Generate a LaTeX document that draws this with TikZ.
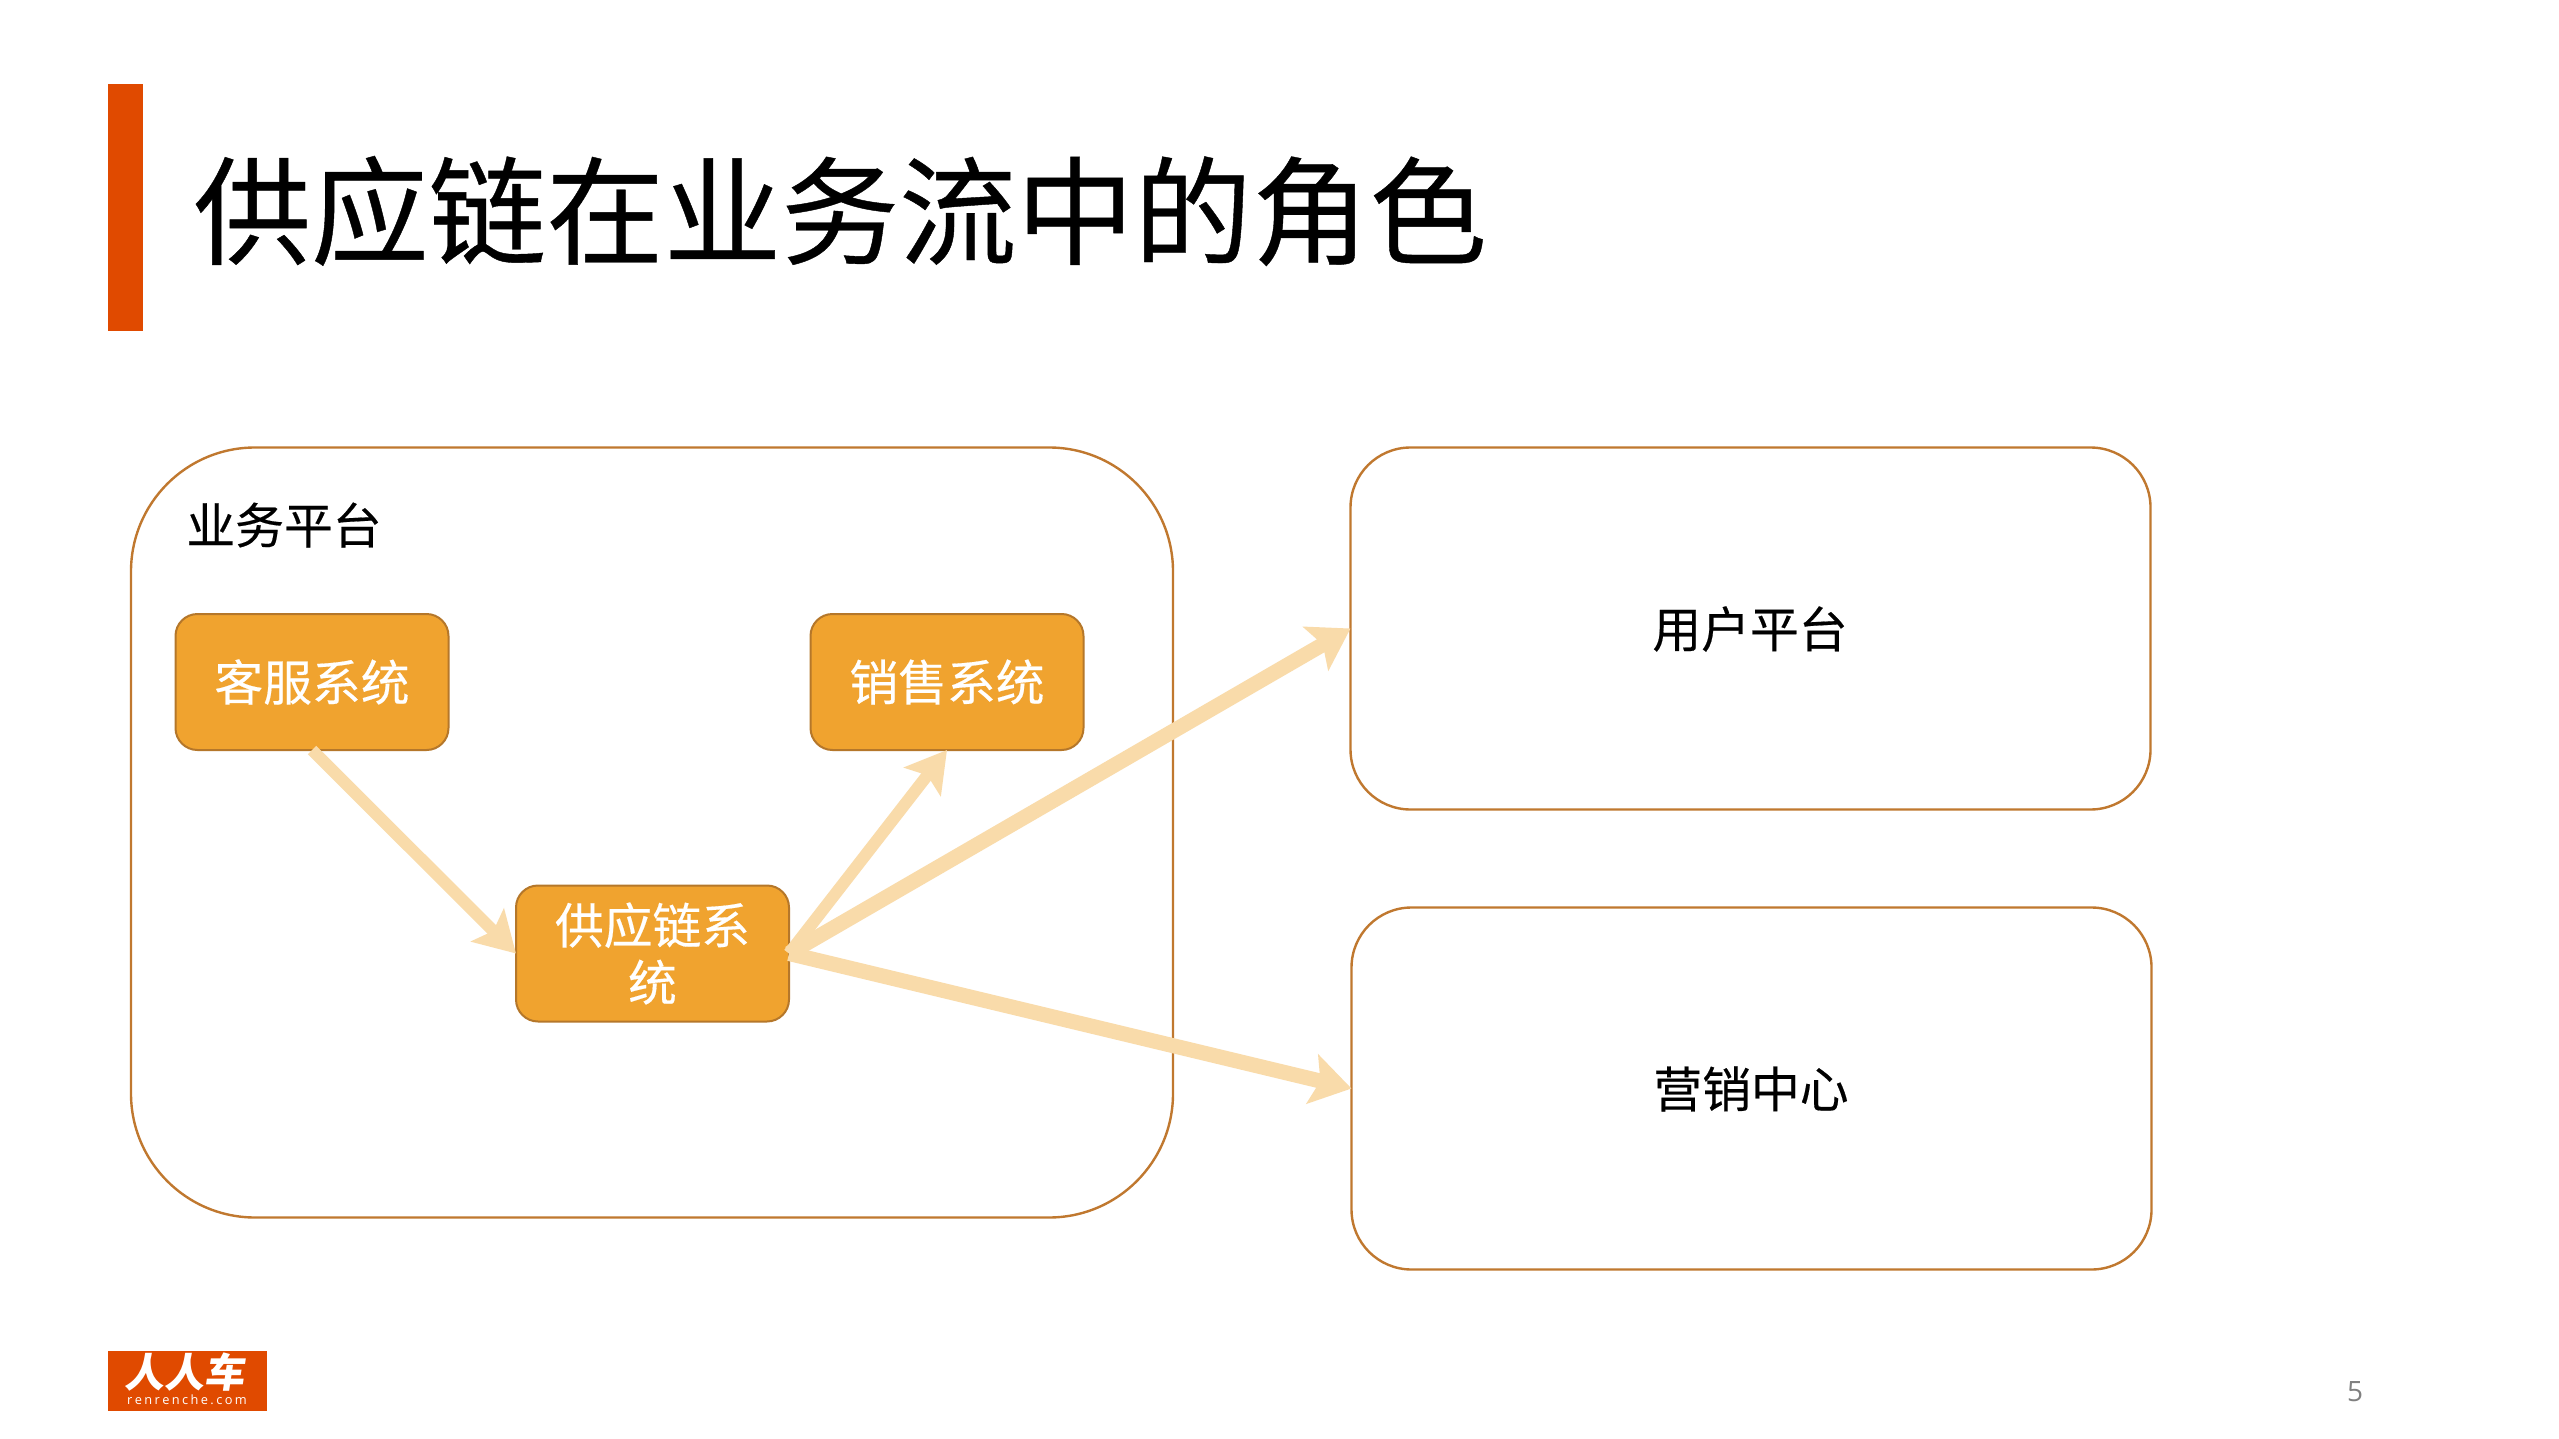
\documentclass[tikz,border=0pt]{standalone}
\usepackage{fontspec}
\setmainfont[FakeBold=0.35]{Noto Sans CJK SC}
\newfontfamily\logofont{Noto Sans CJK SC}
\newfontfamily\latinfont{Open Sans}
\usetikzlibrary{arrows.meta}
\definecolor{brandorange}{HTML}{E04A00}
\definecolor{boxfill}{HTML}{F0A32F}
\definecolor{boxline}{HTML}{B5772A}
\definecolor{panelline}{HTML}{C0782F}
\definecolor{arrowtint}{HTML}{F9DBAA}
\tikzset{
  px/.style={x=0.5pt,y=-0.5pt},
  panel/.style={draw=panelline,line width=1.2pt,fill=white,minimum width=#1,inner sep=0pt,outer sep=0pt},
  sysbox/.style={draw=boxline,line width=1pt,fill=boxfill,rounded corners=11pt,minimum width=136.5pt,minimum height=68pt,inner sep=0pt,outer sep=0pt,text=white,font=\fontsize{24.4}{28.5}\selectfont,align=center,text width=125pt},
  lbl/.style={font=\fontsize{24.4}{28.5}\selectfont,text=black,inner sep=0pt},
  flowthin/.style={draw=arrowtint,line width=6pt,-{Stealth[length=20pt,width=23pt,inset=4pt]}},
  flowthick/.style={draw=arrowtint,line width=7.5pt,-{Stealth[length=20pt,width=25pt,inset=4pt]}},
}
\begin{document}
\begin{tikzpicture}[px]
\useasboundingbox (0,0) rectangle (2559,1439);
\fill[white] (0,0) rectangle (2559,1439);
\fill[brandorange] (108,84) rectangle (143,331);
\node[anchor=west,inner sep=0pt,font=\fontsize{58.8}{60}\selectfont] (title) at (193,211) {供应链在业务流中的角色};

\node[panel=521pt,minimum height=385pt,rounded corners=62pt] (platform) at (652,832.5) {};
\node[lbl,anchor=west] (platformlbl) at (186,525) {业务平台};
\node[panel=400pt,minimum height=181pt,rounded corners=30pt] (user) at (1750.5,628.5) {};
\node[lbl] (userlbl) at (1750,629) {用户平台};
\node[panel=400pt,minimum height=181pt,rounded corners=30pt] (market) at (1751.5,1088.5) {};
\node[lbl] (marketlbl) at (1751,1089) {营销中心};

\node[sysbox] (service) at (312,682) {客服系统};
\node[sysbox] (sales) at (947,682) {销售系统};
\node[sysbox] (supply) at (652.5,953.5) {供应链系\\统};

\draw[flowthin] (service.south) -- (supply.west);
\draw[flowthin] (supply.east) -- (sales.south);
\draw[flowthick] (supply.east) -- (user.west);
\draw[flowthick] (supply.east) -- (market.west);

\node[fill=brandorange,minimum width=79.5pt,minimum height=30pt,inner sep=0pt] (logo) at (187.5,1381) {};
\node[text=white,inner sep=0pt,font=\logofont\fontsize{20}{20}\bfseries\selectfont,xslant=0.15] (logomark) at (187,1372) {人人车};
\node[text=white,inner sep=0pt,font=\latinfont\fontsize{6.4}{7}\selectfont] (logotext) at (187,1400) {r\hspace{1.2pt}e\hspace{1.2pt}n\hspace{1.2pt}r\hspace{1.2pt}e\hspace{1.2pt}n\hspace{1.2pt}c\hspace{1.2pt}h\hspace{1.2pt}e\hspace{1.2pt}.\hspace{1.2pt}c\hspace{1.2pt}o\hspace{1.2pt}m};
\node[text=gray,inner sep=0pt,font=\latinfont\fontsize{14}{16}\selectfont] (pagenum) at (2355,1392) {5};
\end{tikzpicture}
\end{document}
